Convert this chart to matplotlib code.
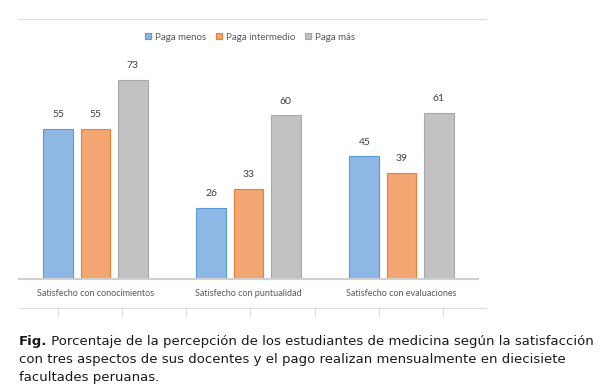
import matplotlib
matplotlib.use("Agg")
import matplotlib.pyplot as plt
from matplotlib.lines import Line2D
import numpy as np

W, H = 602, 386

categories = ["Satisfecho con conocimientos", "Satisfecho con puntualidad", "Satisfecho con evaluaciones"]
series = ["Paga menos", "Paga intermedio", "Paga más"]
menos = [55, 26, 45]
intermedio = [55, 33, 39]
mas = [73, 60, 61]

fills = ["#8DB8E6", "#F4A672", "#C2C2C2"]
edges = ["#5B9BD5", "#ED7D31", "#A8A8A8"]

caption_bold = "Fig."
caption_l1 = " Porcentaje de la percepción de los estudiantes de medicina según la satisfacción"
caption_l2 = "con tres aspectos de sus docentes y el pago realizan mensualmente en diecisiete"
caption_l3 = "facultades peruanas."


def fx(px):
    return px / W


def fy(py):
    return 1 - py / H


fig = plt.figure(figsize=(W / 100, H / 100), dpi=100)
fig.patch.set_facecolor("white")

ax = fig.add_axes([fx(19), fy(279), fx(478) - fx(19), fy(50) - fy(279)])
x = np.arange(len(categories))
bw = 0.196
step = 0.242
for i, (vals, name) in enumerate(zip([menos, intermedio, mas], series)):
    pos = x + (i - 1) * step
    bars = ax.bar(pos, vals, bw, color=fills[i], edgecolor=edges[i], linewidth=0.8, label=name)
    for b, v in zip(bars, vals):
        ax.annotate(str(v), (b.get_x() + b.get_width() / 2, v), xytext=(0, 7),
                    textcoords="offset points", ha="center", va="bottom",
                    fontsize=7.5, color="#404040", family="Lato")

ax.set_xlim(-0.5, 2.5)
ax.set_ylim(0, 84)
ax.set_yticks([])
ax.set_xticks(x)
ax.set_xticklabels(categories, fontsize=6.5, color="#595959", family="Lato")
ax.tick_params(axis="x", length=0, pad=7)
for s in ["top", "right", "left"]:
    ax.spines[s].set_visible(False)
ax.spines["bottom"].set_color("#D0D0D0")
ax.spines["bottom"].set_linewidth(1.5)
ax.patch.set_alpha(0)

fig.legend(loc="center", bbox_to_anchor=(fx(250), fy(37)), ncol=3, frameon=False,
           prop={"family": "Lato", "size": 7}, labelcolor="#595959",
           handlelength=0.6, handleheight=0.6, handletextpad=0.4, columnspacing=1.0)

# frame lines around the chart area
fig.add_artist(Line2D([fx(18), fx(486)], [fy(19), fy(19)], color="#DDDDDD", lw=0.8))
fig.add_artist(Line2D([fx(19), fx(486)], [fy(308), fy(308)], color="#DDDDDD", lw=0.8))
for tx in [58, 122, 186, 250, 315, 379, 443]:
    fig.add_artist(Line2D([fx(tx), fx(tx)], [fy(308), fy(316)], color="#DDDDDD", lw=0.8))

# caption
cap_kw = dict(fontsize=9.55, color="#1a1a1a", family="DejaVu Sans", va="center", ha="left")
t = fig.text(fx(19), fy(341), caption_bold, fontweight="bold", **cap_kw)
fig.canvas.draw()
bb = t.get_window_extent(renderer=fig.canvas.get_renderer())
fig.text(bb.x1 / W, fy(341), caption_l1, **cap_kw)
fig.text(fx(19), fy(359), caption_l2, **cap_kw)
fig.text(fx(19), fy(377), caption_l3, **cap_kw)

fig.savefig("out.png", dpi=100)
